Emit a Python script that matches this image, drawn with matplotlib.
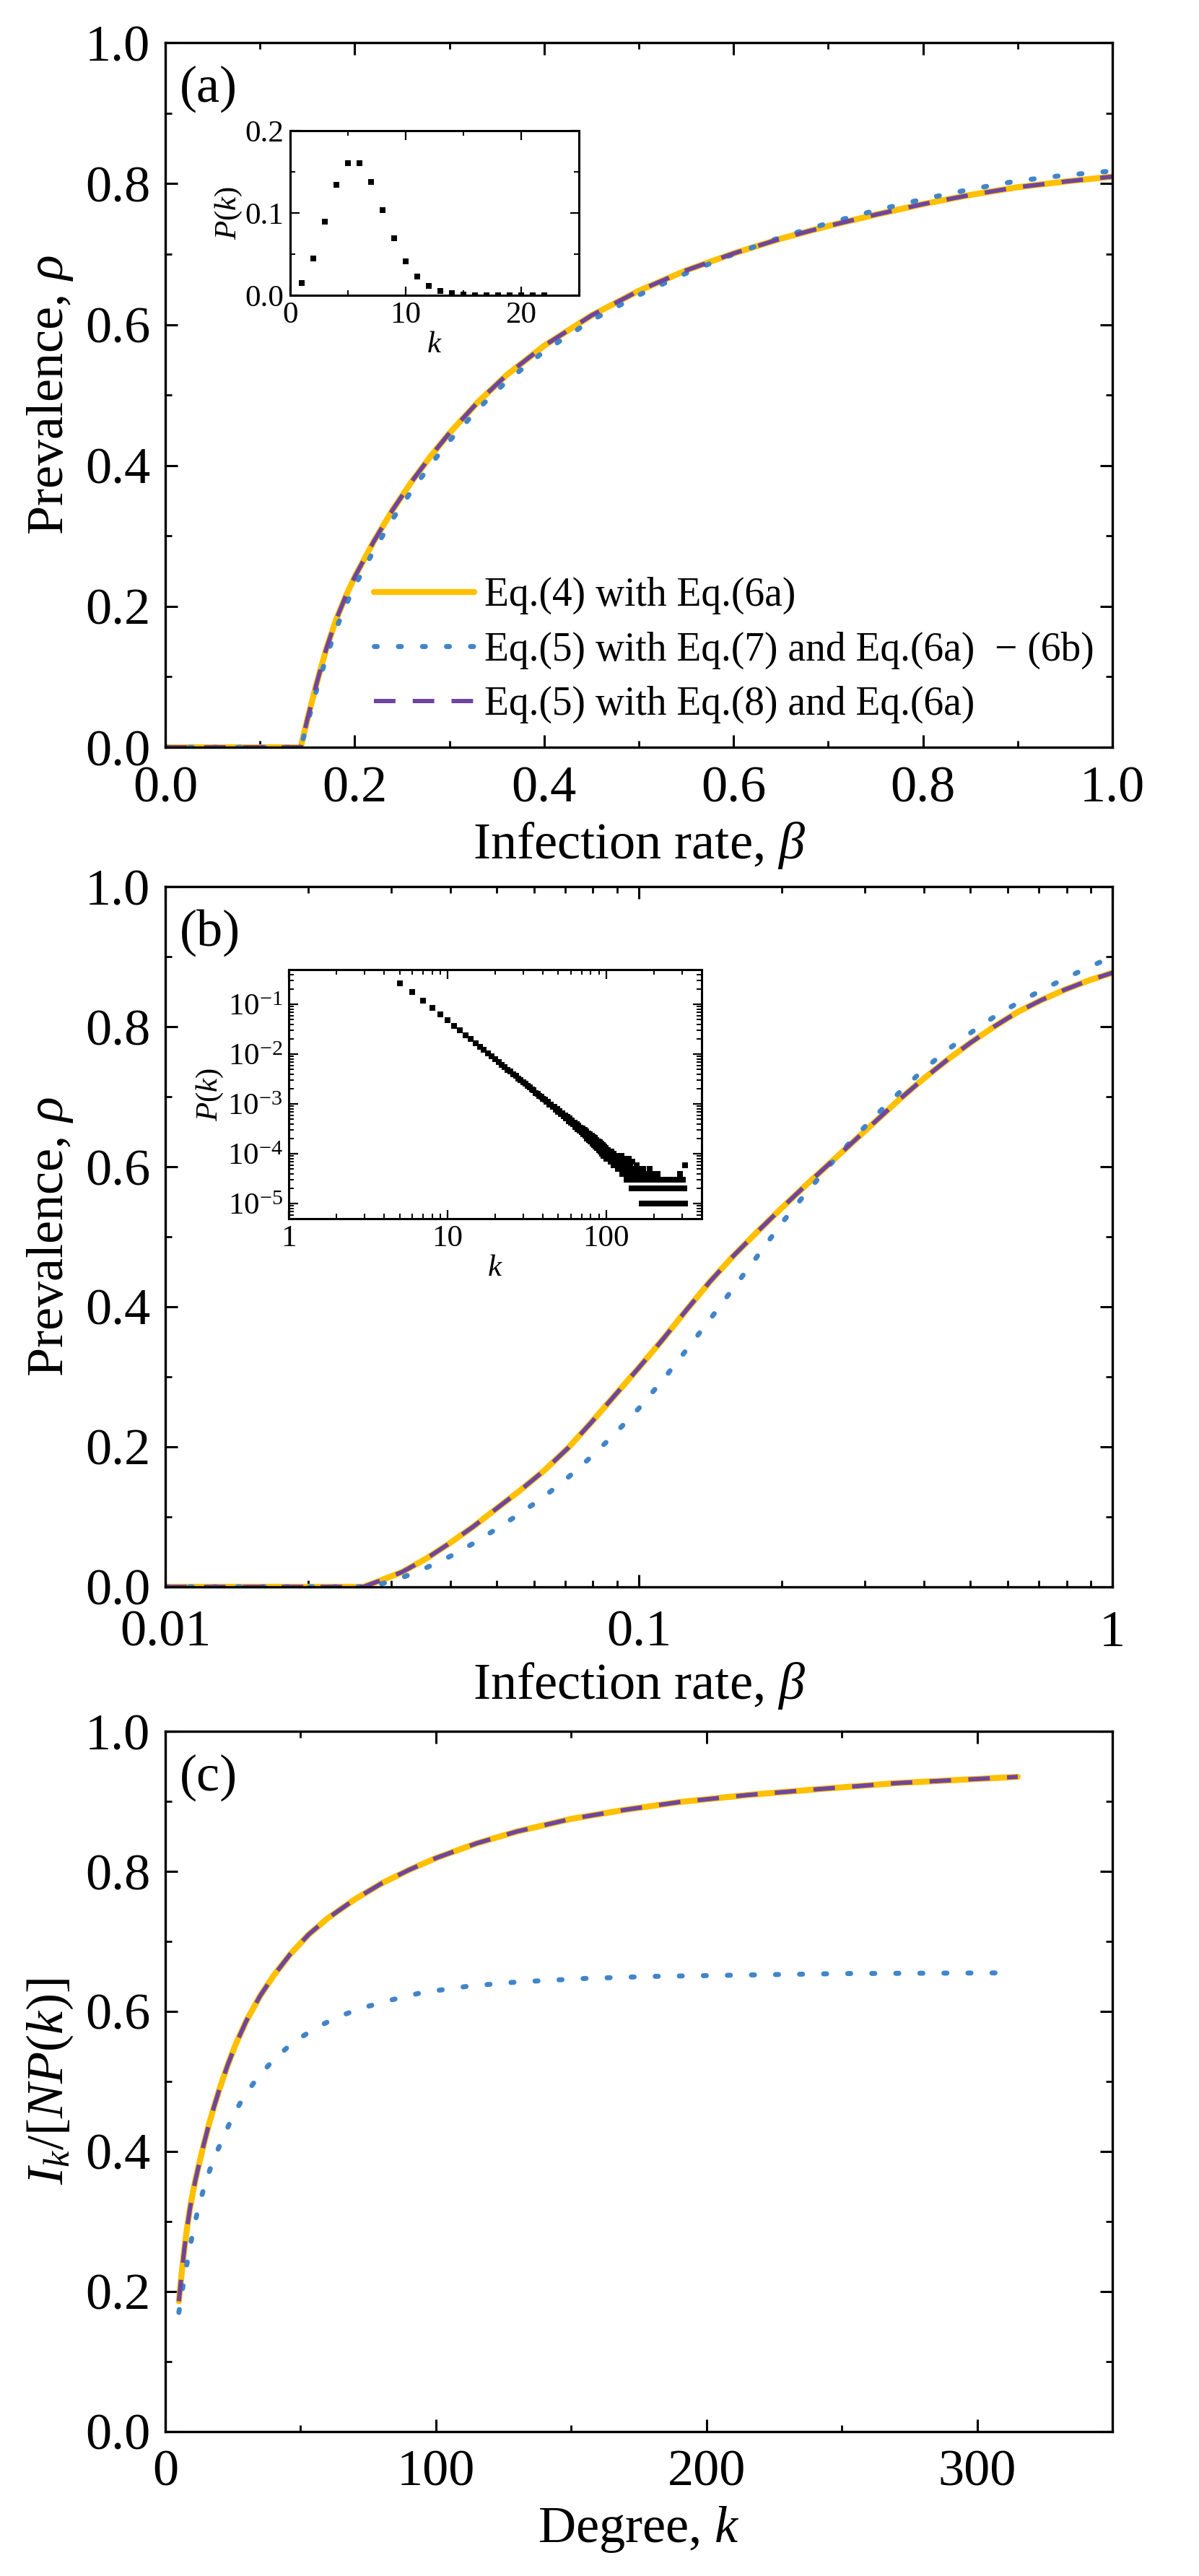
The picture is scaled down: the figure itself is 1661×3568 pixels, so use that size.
import numpy as np
import matplotlib
matplotlib.use('Agg')
import matplotlib.pyplot as plt
from matplotlib.ticker import MultipleLocator, LogLocator, NullFormatter

plt.rcParams['font.family'] = ['Liberation Serif', 'DejaVu Serif']
plt.rcParams['mathtext.fontset'] = 'custom'
plt.rcParams['mathtext.rm'] = 'Liberation Serif'
plt.rcParams['mathtext.it'] = 'Liberation Serif:italic'
plt.rcParams['mathtext.bf'] = 'Liberation Serif:bold'

# colours / labels
c_yel = '#FFC000'
c_blu = '#4185C8'
c_pur = '#6F45A0'
labels = ['Eq.(4) with Eq.(6a)',
          'Eq.(5) with Eq.(7) and Eq.(6a)  \u2212 (6b)',
          'Eq.(5) with Eq.(8) and Eq.(6a)']

# ---- panel (a): homogeneous network ----
a_beta = [0.0, 0.143, 0.15, 0.16, 0.17, 0.18, 0.19, 0.2, 0.22, 0.24, 0.26,
          0.28, 0.3, 0.33, 0.36, 0.4, 0.45, 0.5, 0.55, 0.6, 0.65, 0.7, 0.75,
          0.8, 0.85, 0.9, 0.95, 1.0]
a_eq4 = [0, 0, 0.040, 0.092, 0.140, 0.180, 0.213, 0.242, 0.292, 0.337, 0.377,
         0.413, 0.446, 0.490, 0.528, 0.570, 0.613, 0.648, 0.677, 0.701, 0.722,
         0.740, 0.756, 0.771, 0.784, 0.795, 0.803, 0.810]
a_eq7 = [0, 0, 0.034, 0.083, 0.128, 0.167, 0.200, 0.229, 0.279, 0.324, 0.364,
         0.401, 0.435, 0.480, 0.519, 0.562, 0.606, 0.642, 0.673, 0.700, 0.724,
         0.744, 0.762, 0.778, 0.792, 0.804, 0.812, 0.818]
a_eq8 = a_eq4

# inset (a): degree distribution
ins_a_k = [1, 2, 3, 4, 5, 6, 7, 8, 9, 10, 11, 12, 13, 14, 15, 16, 17, 18, 19,
           20, 21, 22]
ins_a_p = [0.0149, 0.0446, 0.0892, 0.1339, 0.1606, 0.1606, 0.1377, 0.1033,
           0.0688, 0.0413, 0.0225, 0.0113, 0.0052, 0.0022, 0.0009, 0.0003,
           0.0001, 0.00004, 0.00001, 0.000004, 0.000001, 0.0000004]

# ---- panel (b): scale-free network ----
b_beta = [0.01, 0.0262, 0.0282, 0.0316, 0.0355, 0.0398, 0.0447, 0.0501,
          0.0562, 0.0631, 0.0708, 0.0794, 0.0891, 0.1, 0.1122, 0.1259, 0.1413,
          0.1585, 0.1778, 0.1995, 0.2239, 0.2512, 0.2818, 0.3162, 0.3548,
          0.3981, 0.4467, 0.5012, 0.5623, 0.6310, 0.7079, 0.7943, 0.8913, 1.0]
b_eq4 = [0, 0, 0.008, 0.021, 0.040, 0.062, 0.086, 0.112, 0.138, 0.166, 0.198,
         0.235, 0.274, 0.313, 0.353, 0.395, 0.436, 0.473, 0.507, 0.540, 0.572,
         0.603, 0.634, 0.665, 0.696, 0.725, 0.752, 0.777, 0.800, 0.821, 0.838,
         0.853, 0.866, 0.877]
b_eq8 = b_eq4
b_beta7 = [0.01, 0.0269, 0.0282, 0.0316, 0.0355, 0.0398, 0.0447, 0.0501,
           0.0562, 0.0631, 0.0708, 0.0794, 0.0891, 0.1, 0.1122, 0.1259,
           0.1413, 0.1585, 0.1778, 0.1995, 0.2239, 0.2512, 0.2818, 0.3162,
           0.3548, 0.3981, 0.4467, 0.5012, 0.5623, 0.6310, 0.7079, 0.7943,
           0.8913, 1.0]
b_eq7 = [0, 0, 0.003, 0.013, 0.027, 0.043, 0.062, 0.083, 0.105, 0.129, 0.156,
         0.186, 0.219, 0.255, 0.295, 0.338, 0.382, 0.427, 0.472, 0.518, 0.560,
         0.600, 0.638, 0.673, 0.706, 0.738, 0.766, 0.791, 0.814, 0.834, 0.852,
         0.869, 0.885, 0.900]

# inset (b): node counts per degree (N = 1e5), k starting at 5
N_nodes = 100000
kmin_b = 5
counts_b = [26500, 17500, 12000, 8460, 6300, 4800,
            3750, 2990, 2410, 2010, 1680, 1400, 1215, 1030, 910, 790,
            705, 612, 556, 488, 447, 395, 368, 326, 305, 272,
            256, 229, 219, 195, 188, 168, 163, 146, 142, 128,
            125, 112, 111, 99, 98, 88, 89, 78, 80, 70,
            73, 64, 66, 57, 60, 52, 55, 46, 51, 42,
            47, 39, 43, 35, 40, 31, 37, 29, 34, 27,
            32, 25, 30, 23, 28, 20, 26, 19, 25, 18,
            23, 16, 22, 15, 21, 14, 19, 13, 18, 12,
            17, 11, 16, 10, 15, 9, 14, 10, 13, 8,
            11, 9, 12, 8, 10, 9, 7, 11, 8, 9, 6, 10, 8, 7, 9, 6, 8, 7, 5, 9,
            6, 8, 5, 7, 9, 4, 6, 7, 5, 8, 4, 6, 5, 7, 3, 6, 5, 4, 8, 5,
            3, 6, 4, 5, 2, 7, 4, 3, 5, 4,
            3, 5, 2, 4, 6, 3, 2, 5, 4, 3, 2, 4, 3, 5, 2, 3, 1, 4, 2, 3,
            5, 2, 1, 3, 2, 4, 1, 3, 2, 2, 3, 1, 4, 2, 1, 3, 2, 5, 1, 2,
            3, 1, 2, 4, 1, 2, 3, 1, 2, 2,
            1, 3, 2, 1, 0, 2, 3, 1, 2, 1, 4, 1, 2, 0, 3, 1, 2, 1, 1, 3,
            2, 0, 1, 2, 1, 3, 1, 0, 2, 1, 2, 1, 0, 3, 1, 2, 1, 1, 0, 2,
            1, 3, 0, 1, 2, 1, 0, 1, 2, 1, 1, 0, 2, 1, 3, 1, 0, 1, 2, 1,
            1, 0, 2, 1, 1, 0, 3, 1, 0, 2, 1, 0, 1, 2, 1, 0, 1, 1, 3, 0,
            1, 2, 0, 1, 1, 0, 2, 1, 0, 1, 4, 0, 1, 2, 1, 0, 1, 1, 0, 2,
            1, 0, 3, 1, 0, 1, 2, 0, 1, 1, 0, 2, 1, 6, 1]

# ---- panel (c): per-degree infected fraction ----
c_k4 = [5, 6, 7, 8, 9, 10, 11, 12, 14, 16, 18, 20, 23, 26, 30, 35, 40, 46,
        53, 60, 70, 80, 90, 100, 115, 130, 150, 170, 190, 215, 240, 270, 295,
        315]
c_eq4 = [0.186, 0.225, 0.260, 0.290, 0.316, 0.338, 0.357, 0.374, 0.407,
         0.437, 0.464, 0.489, 0.523, 0.553, 0.587, 0.622, 0.651, 0.681, 0.710,
         0.733, 0.760, 0.783, 0.802, 0.819, 0.840, 0.857, 0.875, 0.888, 0.899,
         0.909, 0.917, 0.926, 0.931, 0.935]
c_eq8 = c_eq4
c_k7 = [5, 6, 7, 8, 9, 10, 11, 12, 13, 15, 17, 19, 22, 25, 29, 34, 40, 47,
        55, 63, 72, 82, 95, 112, 130, 155, 180, 215, 250, 308]
c_eq7 = [0.170, 0.196, 0.219, 0.240, 0.261, 0.281, 0.299, 0.316, 0.331, 0.357,
         0.380, 0.399, 0.425, 0.451, 0.478, 0.505, 0.531, 0.555, 0.575, 0.591,
         0.604, 0.615, 0.627, 0.636, 0.642, 0.647, 0.650, 0.652, 0.654, 0.655]

FS = 52
FS_IN = 31


def style_main(ax, xpad=18):
    ax.tick_params(which='both', direction='in', top=True, right=True,
                   labelsize=FS)
    ax.tick_params(axis='x', which='both', pad=xpad)
    ax.tick_params(axis='y', which='both', pad=15)
    ax.tick_params(which='major', length=12, width=2.2)
    ax.tick_params(which='minor', length=6.5, width=2.0)
    for s in ax.spines.values():
        s.set_linewidth(2.4)


def style_inset(ax):
    ax.tick_params(which='both', direction='in', top=True, right=True,
                   labelsize=FS_IN, pad=6)
    ax.tick_params(which='major', length=9, width=1.6)
    ax.tick_params(which='minor', length=5, width=1.4)
    for s in ax.spines.values():
        s.set_linewidth(2.2)


def draw_three(ax, x4, y4, x7, y7, x8, y8):
    l4, = ax.plot(x4, y4, color=c_yel, lw=6.0, solid_capstyle='round')
    l7, = ax.plot(x7, y7, color=c_blu, lw=5.0, dashes=(0.6, 4.2),
                  dash_capstyle='round')
    l8, = ax.plot(x8, y8, color=c_pur, lw=4.3, dashes=(5.0, 4.0))
    return [l4, l7, l8]


fig = plt.figure(figsize=(16.61, 35.68), dpi=100)
W = 0.7899
axa = fig.add_axes([0.1379, 0.7099, W, 0.2735])
axb = fig.add_axes([0.1379, 0.3840, W, 0.2718])
axc = fig.add_axes([0.1379, 0.0561, W, 0.2718])

# (a)
hs = draw_three(axa, a_beta, a_eq4, a_beta, a_eq7, a_beta, a_eq8)
axa.set_xlim(0, 1)
axa.set_ylim(0, 1)
axa.xaxis.set_major_locator(MultipleLocator(0.2))
axa.xaxis.set_minor_locator(MultipleLocator(0.1))
axa.yaxis.set_major_locator(MultipleLocator(0.2))
axa.yaxis.set_minor_locator(MultipleLocator(0.1))
axa.xaxis.set_major_formatter(lambda v, p: '%.1f' % v)
axa.yaxis.set_major_formatter(lambda v, p: '%.1f' % v)
style_main(axa)
axa.set_xlabel('Infection rate, $\\beta$', fontsize=FS, labelpad=8)
axa.set_ylabel('Prevalence, $\\rho$', fontsize=FS, labelpad=10)
axa.text(0.015, 0.968, '(a)', transform=axa.transAxes, fontsize=FS,
         va='top', ha='left')
axa.legend(hs, labels, loc='lower left', bbox_to_anchor=(0.212, 0.022),
           frameon=False, fontsize=40, handlelength=2.5, handletextpad=0.25,
           labelspacing=0.42, borderaxespad=0, borderpad=0.2)

ia = fig.add_axes([0.2420, 0.8854, 0.2408, 0.0639])
ia.plot(ins_a_k, ins_a_p, 's', color='black', ms=6.1, mew=0)
ia.set_xlim(0, 25)
ia.set_ylim(0, 0.2)
ia.xaxis.set_major_locator(MultipleLocator(10))
ia.xaxis.set_minor_locator(MultipleLocator(5))
ia.yaxis.set_major_locator(MultipleLocator(0.1))
ia.yaxis.set_minor_locator(MultipleLocator(0.05))
ia.yaxis.set_major_formatter(lambda v, p: '%.1f' % v)
style_inset(ia)
ia.set_xlabel('$k$', fontsize=FS_IN, labelpad=2)
ia.set_ylabel('$P(k)$', fontsize=FS_IN, labelpad=1)

# (b)
hs = draw_three(axb, b_beta, b_eq4, b_beta7, b_eq7, b_beta, b_eq8)
axb.set_xscale('log')
axb.set_xlim(0.01, 1)
axb.set_ylim(0, 1)
axb.set_xticks([0.01, 0.1, 1])
axb.set_xticklabels(['0.01', '0.1', '1'])
axb.xaxis.set_minor_locator(LogLocator(base=10, subs=np.arange(2, 10)))
axb.xaxis.set_minor_formatter(NullFormatter())
axb.yaxis.set_major_locator(MultipleLocator(0.2))
axb.yaxis.set_minor_locator(MultipleLocator(0.1))
axb.yaxis.set_major_formatter(lambda v, p: '%.1f' % v)
style_main(axb, xpad=23)
axb.set_xlabel('Infection rate, $\\beta$', fontsize=FS, labelpad=4)
axb.set_ylabel('Prevalence, $\\rho$', fontsize=FS, labelpad=10)
axb.text(0.015, 0.968, '(b)', transform=axb.transAxes, fontsize=FS,
         va='top', ha='left')

ib = fig.add_axes([0.2408, 0.5269, 0.3444, 0.0967])
kb = np.arange(kmin_b, kmin_b + len(counts_b))
cb = np.array(counts_b, dtype=float)
mask = cb > 0
ib.plot(kb[mask], cb[mask] / N_nodes, 's', color='black', ms=5.8, mew=0)
ib.set_xscale('log')
ib.set_yscale('log')
ib.set_xlim(1, 400)
ib.set_ylim(5e-6, 0.5)
ib.set_xticks([1, 10, 100])
ib.set_xticklabels(['1', '10', '100'])
ib.xaxis.set_minor_locator(LogLocator(base=10, subs=np.arange(2, 10)))
ib.xaxis.set_minor_formatter(NullFormatter())
ib.yaxis.set_minor_locator(LogLocator(base=10, subs=np.arange(2, 10),
                                      numticks=20))
ib.yaxis.set_minor_formatter(NullFormatter())
ib.set_yticks([1e-5, 1e-4, 1e-3, 1e-2, 1e-1])
ib.set_yticklabels(['10$^{-5}$', '10$^{-4}$', '10$^{-3}$', '10$^{-2}$',
                    '10$^{-1}$'])
style_inset(ib)
ib.set_xlabel('$k$', fontsize=FS_IN, labelpad=2)
ib.set_ylabel('$P(k)$', fontsize=FS_IN, labelpad=2)

# (c)
draw_three(axc, c_k4, c_eq4, c_k7, c_eq7, c_k4, c_eq8)
axc.set_xlim(0, 350)
axc.set_ylim(0, 1)
axc.xaxis.set_major_locator(MultipleLocator(100))
axc.xaxis.set_minor_locator(MultipleLocator(50))
axc.yaxis.set_major_locator(MultipleLocator(0.2))
axc.yaxis.set_minor_locator(MultipleLocator(0.1))
axc.yaxis.set_major_formatter(lambda v, p: '%.1f' % v)
style_main(axc)
axc.set_xlabel('Degree, $k$', fontsize=FS, labelpad=8)
axc.set_ylabel('$I_k/[NP(k)]$', fontsize=FS, labelpad=10)
axc.text(0.015, 0.968, '(c)', transform=axc.transAxes, fontsize=FS,
         va='top', ha='left')

fig.savefig('out.png', dpi=100)
